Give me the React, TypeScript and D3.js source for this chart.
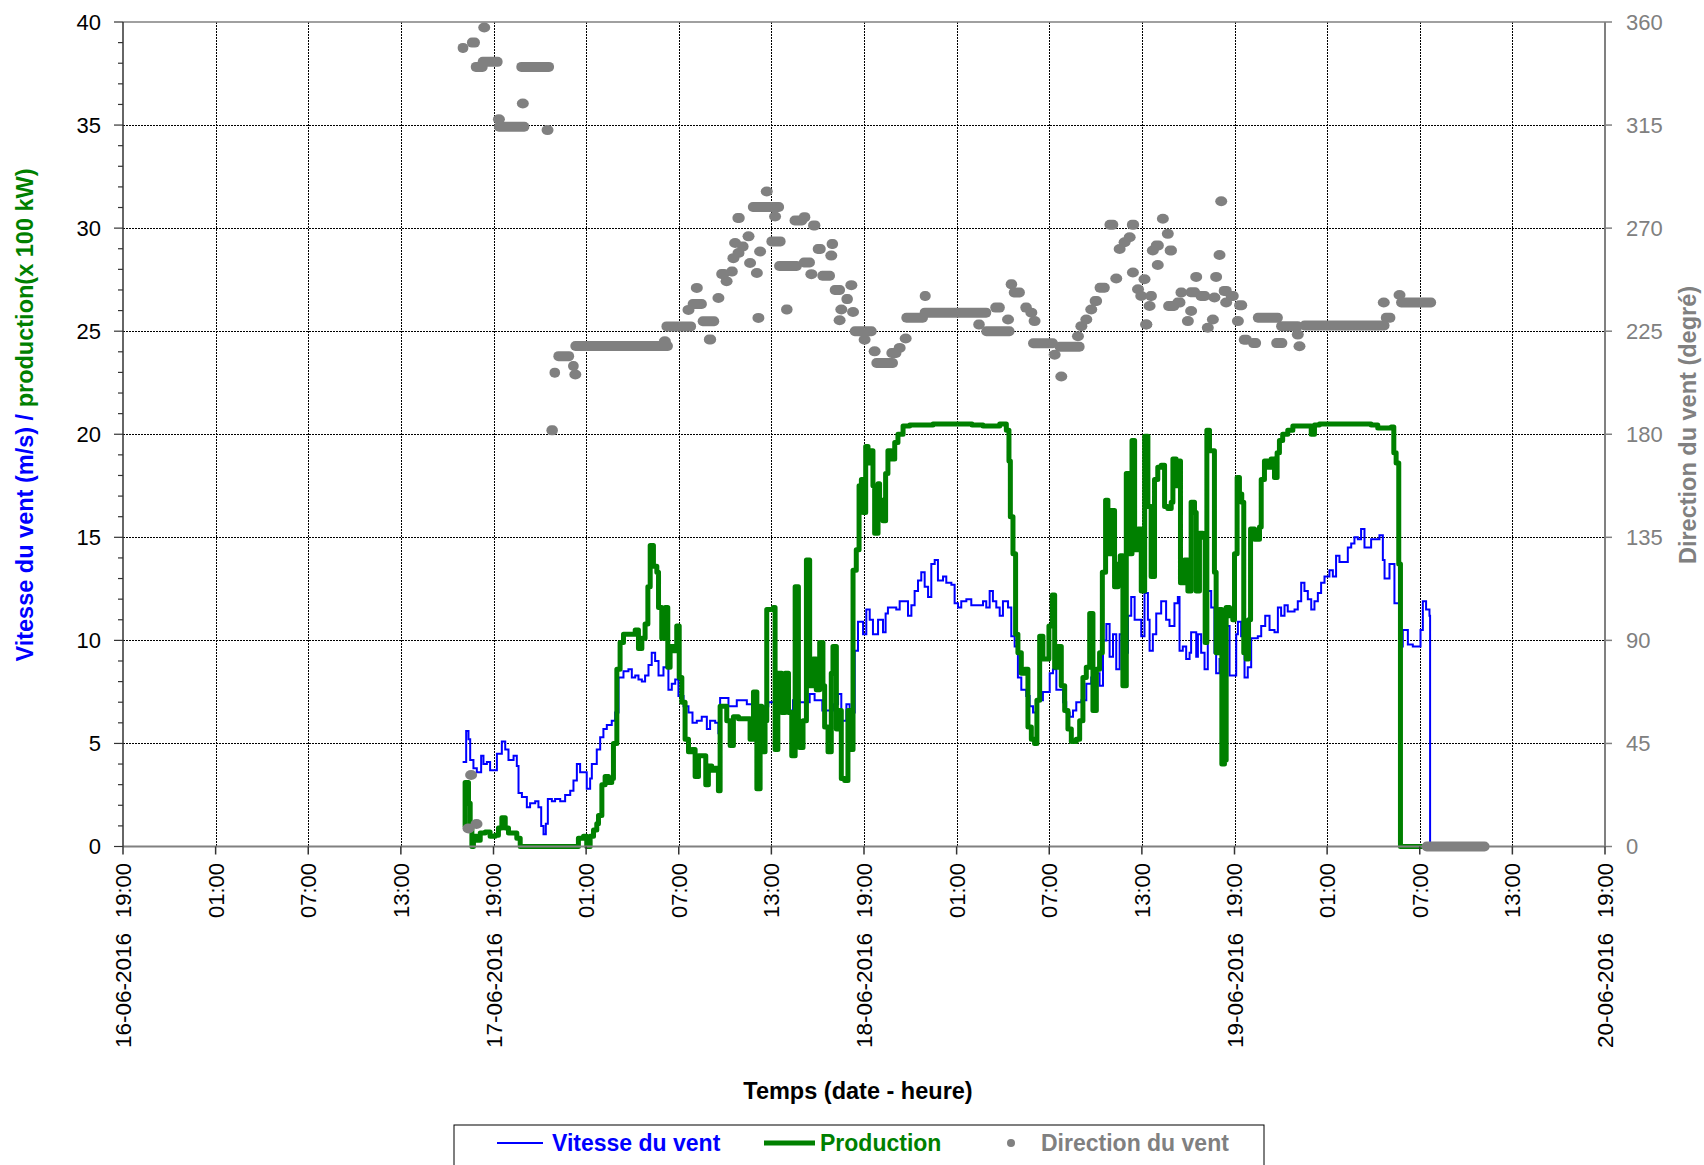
import React from "react";
import * as d3 from "d3";

// time values are hours counted from 16-06-2016 19:00
const startDate = new Date(2016, 5, 16, 19, 0);
const tickHours = d3.range(0, 97, 6);
const leftTicks = [0, 5, 10, 15, 20, 25, 30, 35, 40];
const rightTicks = [0, 45, 90, 135, 180, 225, 270, 315, 360];

// wind speed (m/s): [hour, value]
const windSpeed: [number, number][] = [
  [22.0, 4.1], [22.23, 5.6], [22.38, 5.2], [22.49, 4.2], [22.7, 3.8], [22.92, 3.6], [23.2, 4.4], [23.35, 4.0],
  [23.57, 4.1], [23.78, 3.7], [24.22, 4.5], [24.54, 5.1], [24.76, 4.7], [24.97, 4.2], [25.3, 4.4], [25.51, 3.9],
  [25.62, 2.6], [25.84, 2.4], [26.16, 1.9], [26.37, 2.1], [26.7, 2.2], [26.91, 1.9], [27.09, 1.0], [27.24, 0.6],
  [27.39, 1.1], [27.52, 2.3], [27.78, 2.2], [27.99, 2.3], [28.32, 2.2], [28.64, 2.5], [28.97, 2.7], [29.18, 3.2],
  [29.4, 4.0], [29.61, 3.6], [29.83, 3.6], [30.04, 2.8], [30.26, 3.3], [30.37, 4.0], [30.69, 4.7], [30.91, 5.3],
  [31.12, 5.7], [31.34, 5.9], [31.66, 6.1], [31.88, 6.5], [32.1, 8.2], [32.42, 8.5], [32.74, 8.6], [32.96, 8.2],
  [33.18, 8.3], [33.39, 8.1], [33.61, 8.0], [33.82, 8.3], [34.04, 8.8], [34.25, 9.4], [34.47, 9.0], [34.69, 8.3],
  [35.01, 8.7], [35.23, 9.0], [35.33, 7.6], [35.55, 7.9], [35.77, 8.1], [35.98, 7.3], [36.31, 6.8], [36.63, 6.5],
  [36.89, 6.0], [37.17, 6.1], [37.49, 6.3], [37.82, 5.7], [38.03, 6.1], [38.36, 6.0], [38.57, 5.5], [38.68, 7.2],
  [39.22, 6.8], [39.76, 7.1], [40.41, 6.9], [41.06, 6.1], [41.38, 6.8], [41.8, 7.0], [42.2, 6.5], [42.6, 7.2],
  [43.0, 6.6], [43.4, 7.1], [43.83, 7.0], [44.48, 7.4], [44.8, 7.1], [45.3, 6.6], [45.99, 6.9], [46.32, 7.4],
  [46.53, 6.1], [46.86, 6.9], [47.07, 6.5], [47.4, 9.5], [47.61, 10.9], [47.94, 10.3], [48.15, 11.5], [48.37, 11.0],
  [48.58, 10.3], [48.91, 11.0], [49.23, 10.4], [49.4, 11.3], [49.55, 11.6], [50.09, 11.5], [50.31, 11.9], [50.63, 11.9],
  [50.85, 11.2], [51.07, 11.7], [51.28, 12.4], [51.5, 12.9], [51.71, 13.3], [51.93, 12.6], [52.15, 12.1], [52.36, 13.7],
  [52.58, 13.9], [52.79, 12.9], [53.12, 13.1], [53.33, 12.8], [53.66, 12.7], [53.87, 11.8], [54.09, 11.6], [54.3, 11.9],
  [54.63, 12.0], [54.95, 11.7], [55.71, 11.9], [55.92, 11.6], [56.14, 12.4], [56.35, 11.9], [56.57, 11.6], [56.79, 11.2],
  [57.0, 11.9], [57.33, 11.6], [57.54, 10.2], [57.76, 9.7], [57.97, 8.2], [58.19, 7.6], [58.51, 7.3], [58.73, 6.8],
  [58.95, 6.5], [59.27, 7.1], [59.59, 7.5], [60.03, 8.4], [60.24, 8.6], [60.46, 7.6], [60.89, 7.0], [61.1, 6.5],
  [61.32, 6.3], [61.54, 6.6], [61.75, 7.0], [62.08, 7.1], [62.4, 7.9], [62.72, 8.2], [63.05, 8.4], [63.26, 7.8],
  [63.48, 10.0], [63.7, 10.8], [63.91, 9.2], [64.13, 10.3], [64.34, 8.6], [64.56, 10.3], [64.88, 9.4], [65.1, 11.2],
  [65.31, 12.1], [65.53, 11.0], [65.96, 10.2], [66.17, 12.3], [66.39, 11.0], [66.5, 9.5], [66.71, 10.3], [66.93, 11.3],
  [67.25, 11.9], [67.57, 11.0], [67.79, 10.7], [68.11, 11.8], [68.33, 12.1], [68.44, 9.5], [68.65, 9.7], [68.87, 9.1],
  [69.09, 9.4], [69.19, 10.4], [69.52, 9.2], [69.63, 10.3], [69.84, 9.4], [70.06, 8.6], [70.27, 12.4], [70.49, 11.6],
  [70.7, 9.4], [70.81, 8.4], [71.03, 9.1], [71.24, 8.4], [71.46, 10.7], [71.68, 8.3], [72.11, 10.3], [72.22, 10.9],
  [72.43, 10.2], [72.65, 8.2], [72.86, 8.7], [73.08, 10.1], [73.51, 10.2], [73.73, 10.7], [73.99, 11.2], [74.27, 10.5],
  [74.59, 10.4], [74.81, 11.6], [75.02, 11.2], [75.24, 11.7], [75.45, 11.4], [75.89, 11.5], [76.1, 11.9], [76.32, 12.8],
  [76.53, 12.4], [76.75, 12.0], [76.97, 11.5], [77.18, 11.9], [77.4, 12.3], [77.61, 12.8], [77.83, 13.1], [78.15, 13.4],
  [78.37, 13.1], [78.58, 14.1], [78.8, 13.8], [79.34, 14.5], [79.56, 14.7], [79.77, 15.0], [79.99, 14.9], [80.2, 15.4],
  [80.42, 14.5], [80.85, 14.9], [81.39, 15.1], [81.61, 13.9], [81.72, 13.0], [82.04, 13.7], [82.36, 11.8], [82.69, 9.7],
  [82.9, 10.5], [83.23, 9.8], [83.55, 9.7], [84.05, 10.5], [84.2, 11.9], [84.41, 11.5], [84.63, 11.2], [84.67, 0],
  [84.8, 0],
];

// production (x 100 kW): [hour, value]
const production: [number, number][] = [
  [22.0, 1.05], [22.16, 3.1], [22.38, 2.1], [22.49, 1.1], [22.6, 0], [22.7, 0.5], [22.92, 0.3], [23.14, 0.65],
  [23.46, 0.7], [23.78, 0.5], [24.11, 0.55], [24.32, 0.9], [24.54, 1.4], [24.76, 0.9], [24.97, 0.65], [25.51, 0.4],
  [25.73, 0], [29.18, 0], [29.5, 0.4], [29.83, 0.5], [30.04, 0], [30.26, 0.5], [30.48, 0.8], [30.69, 1.1],
  [30.8, 1.5], [31.02, 3.0], [31.23, 3.4], [31.45, 3.1], [31.66, 3.3], [31.77, 5.0], [31.99, 8.6], [32.2, 9.9],
  [32.42, 10.3], [32.74, 10.3], [33.18, 10.5], [33.39, 9.6], [33.61, 10.1], [33.82, 10.8], [34.0, 12.6], [34.15, 14.6],
  [34.36, 13.6], [34.58, 13.3], [34.69, 11.6], [34.9, 10.1], [35.12, 11.6], [35.29, 8.7], [35.44, 9.7], [35.66, 9.5],
  [35.87, 10.7], [36.03, 8.2], [36.2, 7.0], [36.41, 5.2], [36.63, 4.6], [36.85, 4.7], [37.06, 3.4], [37.28, 4.4],
  [37.75, 3.0], [37.92, 3.9], [38.14, 3.7], [38.36, 3.8], [38.57, 2.7], [38.68, 6.8], [39.11, 6.1], [39.33, 4.9],
  [39.54, 6.3], [39.87, 6.2], [40.62, 5.2], [40.84, 7.5], [41.06, 2.8], [41.27, 6.8], [41.38, 4.6], [41.59, 6.1],
  [41.7, 11.5], [42.13, 11.6], [42.24, 4.7], [42.42, 8.4], [42.67, 6.5], [42.89, 8.4], [43.11, 6.5], [43.32, 4.4],
  [43.54, 12.6], [43.75, 6.1], [43.83, 4.8], [44.05, 6.1], [44.27, 13.9], [44.48, 7.8], [44.7, 9.1], [44.91, 7.6],
  [45.13, 9.9], [45.34, 7.8], [45.45, 5.8], [45.67, 4.6], [45.88, 8.4], [45.99, 9.7], [46.21, 5.7], [46.42, 6.6],
  [46.53, 3.3], [46.75, 3.2], [46.96, 6.6], [47.18, 4.7], [47.29, 13.4], [47.5, 14.4], [47.68, 17.5], [47.83, 17.8],
  [47.94, 16.2], [48.11, 19.4], [48.26, 18.6], [48.41, 19.2], [48.58, 17.5], [48.69, 15.2], [48.91, 17.6], [49.01, 16.8],
  [49.23, 15.8], [49.4, 18.1], [49.55, 19.2], [49.77, 18.8], [49.99, 19.6], [50.2, 20.0], [50.53, 20.4], [50.96, 20.45],
  [52.47, 20.5], [53.98, 20.5], [55.0, 20.45], [55.71, 20.4], [56.79, 20.5], [57.22, 20.2], [57.39, 18.7], [57.48, 16.0],
  [57.65, 14.2], [57.82, 10.3], [57.97, 9.4], [58.19, 8.4], [58.41, 8.6], [58.62, 5.8], [58.84, 5.2], [59.05, 5.0],
  [59.2, 7.1], [59.38, 10.2], [59.59, 9.1], [59.81, 9.1], [59.98, 10.7], [60.2, 12.2], [60.35, 8.7], [60.56, 9.7],
  [60.78, 7.8], [61.0, 6.6], [61.21, 5.7], [61.43, 5.1], [61.75, 5.2], [61.97, 6.1], [62.18, 8.2], [62.4, 8.7],
  [62.62, 11.3], [62.83, 6.6], [63.05, 8.6], [63.26, 9.4], [63.44, 13.3], [63.65, 16.8], [63.8, 14.2], [64.02, 16.3],
  [64.23, 12.6], [64.45, 13.7], [64.6, 14.1], [64.77, 7.8], [64.99, 18.1], [65.21, 14.2], [65.36, 19.7], [65.53, 14.4],
  [65.75, 15.4], [65.96, 12.4], [66.18, 19.9], [66.39, 16.5], [66.6, 13.1], [66.82, 17.8], [67.03, 18.4], [67.25, 18.5],
  [67.47, 16.5], [67.68, 16.4], [67.9, 16.7], [68.01, 18.8], [68.22, 17.5], [68.44, 18.7], [68.5, 12.8], [68.76, 13.9],
  [68.98, 12.4], [69.19, 16.7], [69.41, 16.2], [69.52, 12.4], [69.73, 15.2], [69.95, 15.0], [70.1, 9.9], [70.21, 20.2],
  [70.38, 19.2], [70.6, 19.2], [70.7, 13.3], [70.81, 9.4], [71.03, 11.5], [71.18, 4.0], [71.35, 4.2], [71.46, 11.6],
  [71.68, 11.2], [71.89, 11.0], [72.0, 14.2], [72.17, 17.9], [72.32, 17.1], [72.47, 16.7], [72.6, 9.4], [72.76, 9.1],
  [72.91, 11.0], [73.04, 15.4], [73.3, 14.9], [73.62, 15.5], [73.73, 17.8], [73.94, 18.7], [74.16, 18.4], [74.37, 18.8],
  [74.59, 17.9], [74.76, 19.1], [74.91, 19.7], [75.12, 20.0], [75.45, 20.2], [75.78, 20.4], [76.5, 20.4], [76.97, 20.0],
  [77.18, 20.45], [77.5, 20.5], [79.12, 20.5], [80.85, 20.45], [81.28, 20.3], [82.15, 20.35], [82.32, 19.1], [82.47, 18.6],
  [82.64, 13.7], [82.75, 0], [84.3, 0],
];

// wind direction (deg): [fromHour, toHour, value], one run of equal readings each
const windDirection: [number, number, number][] = [
  [22.0, 22.05, 348.7], [22.6, 22.8, 351.0], [23.4, 23.4, 357.6], [22.85, 23.3, 340.4], [23.3, 24.27, 342.6],
  [22.38, 22.38, 7.9], [22.55, 22.55, 31.2], [22.9, 22.9, 9.8],
  [24.35, 24.35, 317.5], [24.35, 26.0, 314.3], [25.9, 25.9, 324.4], [25.8, 27.6, 340.4], [27.5, 27.5, 312.8],
  [27.75, 27.85, 181.7], [27.95, 27.99, 206.9], [28.2, 28.9, 214.1], [29.15, 29.2, 209.8], [29.3, 29.3, 206.1],
  [29.3, 35.3, 218.5], [35.1, 35.1, 220.6], [35.2, 36.8, 227.1], [36.63, 36.63, 234.3], [36.9, 37.5, 236.9],
  [37.17, 37.17, 243.9], [37.55, 38.3, 229.3], [37.95, 38.1, 221.4], [38.57, 38.57, 239.5], [38.75, 38.95, 250.0],
  [39.1, 39.1, 246.8], [39.4, 39.5, 251.1], [39.54, 39.54, 256.9], [39.87, 39.87, 259.1], [39.65, 39.65, 263.5],
  [40.1, 40.2, 262.0], [40.52, 40.52, 266.4], [40.62, 40.62, 254.8], [41.06, 41.06, 250.4], [41.27, 41.27, 259.8],
  [41.16, 41.16, 230.8], [39.8, 39.95, 274.4], [40.8, 42.5, 279.2], [41.7, 41.7, 286.0], [42.24, 42.24, 275.1],
  [42.0, 42.6, 264.2], [42.5, 43.65, 253.5], [42.95, 43.05, 234.5], [43.5, 44.0, 273.3],
  [44.1, 44.2, 274.8], [44.7, 44.85, 271.2], [44.1, 44.5, 255.0], [44.59, 44.59, 249.9], [45.0, 45.2, 260.9],
  [45.9, 46.0, 263.1], [45.88, 45.88, 258.0], [45.3, 45.8, 249.2], [46.1, 46.45, 243.0], [47.18, 47.18, 245.1],
  [46.86, 46.96, 239.0], [46.53, 46.53, 234.5], [47.29, 47.29, 233.4], [46.42, 46.42, 229.8], [47.4, 48.5, 225.0],
  [48.04, 48.04, 221.3], [48.69, 48.69, 216.2], [48.8, 49.88, 211.1], [49.77, 50.1, 215.5], [50.31, 50.31, 217.7],
  [50.7, 50.7, 221.8], [50.74, 51.82, 230.9], [51.93, 52.0, 240.4], [51.93, 55.92, 233.1], [55.4, 55.5, 227.9],
  [55.92, 57.43, 225.0], [56.5, 56.8, 235.3], [57.33, 57.33, 230.1], [57.5, 57.6, 245.5], [57.7, 58.1, 241.9],
  [58.45, 58.55, 235.3], [58.84, 58.84, 233.1], [59.05, 59.05, 229.4], [58.95, 60.24, 219.7], [60.35, 60.35, 214.7],
  [60.78, 60.78, 205.2], [60.67, 61.97, 218.2], [61.86, 61.86, 222.8], [62.08, 62.08, 227.2], [62.4, 62.4, 230.1],
  [62.72, 62.72, 234.5], [62.94, 63.1, 238.2], [63.26, 63.6, 244.0], [64.34, 64.34, 248.0], [64.56, 64.56, 260.9],
  [64.88, 64.88, 263.8], [65.21, 65.21, 266.0], [63.9, 64.15, 271.5], [65.35, 65.5, 271.5], [65.42, 65.42, 250.6],
  [65.75, 65.75, 243.3], [65.96, 65.96, 240.4], [66.29, 66.29, 227.9],
  [67.36, 67.36, 274.1], [67.68, 67.68, 267.5], [66.9, 67.1, 262.4], [66.71, 66.71, 260.2], [67.8, 67.95, 260.2],
  [67.03, 67.03, 253.9], [71.14, 71.14, 281.7], [71.03, 71.03, 258.3], [69.52, 69.52, 248.7], [70.81, 70.81, 248.7],
  [66.55, 66.65, 240.4], [66.17, 66.17, 247.7], [68.5, 68.6, 241.9], [69.15, 69.45, 242.0], [69.8, 70.1, 240.4],
  [70.7, 70.7, 239.7], [71.3, 71.5, 242.6], [71.75, 71.95, 240.4], [67.7, 68.1, 236.0], [68.3, 68.5, 237.5],
  [69.19, 69.19, 233.8], [71.46, 71.46, 237.5], [72.3, 72.5, 236.3], [66.5, 66.5, 236.0], [68.98, 68.98, 229.4],
  [70.27, 70.27, 226.5], [70.6, 70.6, 230.1], [66.28, 66.28, 227.9], [72.22, 72.22, 229.4], [72.6, 72.8, 221.3],
  [73.2, 73.4, 219.8], [73.51, 74.81, 230.9], [75.02, 76.1, 227.2], [74.7, 75.1, 219.8], [76.21, 76.21, 218.4],
  [76.1, 76.1, 223.5], [76.53, 81.72, 227.5], [81.67, 81.67, 237.5], [81.8, 82.1, 230.9], [82.69, 82.69, 240.8],
  [82.79, 84.74, 237.5], [84.45, 88.2, 0],
];

const BLUE = "#0000ff";
const GREEN = "#008000";
const GRAY = "#808080";
const FONT = "'Liberation Sans', Arial, sans-serif";

const W = 1704;
const H = 1165;
const plot = { left: 123, right: 1605, top: 22, bottom: 846.5 };

const toDate = (h: number) => new Date(startDate.getTime() + h * 3600 * 1000);
// snap 1px lines to the pixel grid so the dotted grid stays crisp
const crisp = (v: number) => Math.round(v) + 0.5;

export default function App() {
  const x = d3.scaleTime().domain([toDate(0), toDate(96)]).range([plot.left, plot.right]);
  const yL = d3.scaleLinear().domain([0, 40]).range([plot.bottom, plot.top]);
  const yR = d3.scaleLinear().domain([0, 360]).range([plot.bottom, plot.top]);
  const hourFmt = d3.timeFormat("%H:%M");
  const dateFmt = d3.timeFormat("%d-%m-%Y");

  const line = d3
    .line<[number, number]>()
    .x((d) => x(toDate(d[0])))
    .y((d) => yL(d[1]))
    .curve(d3.curveStepAfter);

  const minorTicks = d3.range(0, 41, 1);

  return (
    <svg
      width={W}
      height={H}
      style={{ position: "absolute", left: 0, top: 0, background: "#fff" }}
      fontFamily={FONT}
    >
      {/* grid */}
      {leftTicks.slice(1, -1).map((v) => (
        <line key={"gh" + v} x1={plot.left} x2={plot.right} y1={crisp(yL(v))} y2={crisp(yL(v))}
          stroke="#000" strokeWidth={1} strokeDasharray="2,1" />
      ))}
      {tickHours.slice(1, -1).map((h) => (
        <line key={"gv" + h} x1={crisp(x(toDate(h)))} x2={crisp(x(toDate(h)))} y1={plot.top} y2={plot.bottom}
          stroke="#000" strokeWidth={1} strokeDasharray="2,1" />
      ))}

      {/* series */}
      <path d={line(windSpeed) || ""} fill="none" stroke={BLUE} strokeWidth={2} />
      <path d={line(production) || ""} fill="none" stroke={GREEN} strokeWidth={5} strokeLinejoin="round" />
      {windDirection.map((d, i) =>
        d[1] > d[0] ? (
          <line key={"wd" + i} x1={x(toDate(d[0]))} x2={x(toDate(d[1]))} y1={yR(d[2])} y2={yR(d[2])}
            stroke={GRAY} strokeWidth={10} strokeLinecap="round" />
        ) : (
          <ellipse key={"wd" + i} cx={x(toDate(d[0]))} cy={yR(d[2])} rx={6} ry={5} fill={GRAY} />
        )
      )}

      {/* frame */}
      <line x1={plot.left} x2={plot.right} y1={plot.top} y2={plot.top} stroke={GRAY} strokeWidth={1.5} />
      <line x1={plot.right} x2={plot.right} y1={plot.top} y2={plot.bottom} stroke={GRAY} strokeWidth={2} />
      <line x1={plot.left} x2={plot.right} y1={plot.bottom} y2={plot.bottom} stroke={GRAY} strokeWidth={2} />
      <line x1={plot.left} x2={plot.left} y1={plot.top} y2={plot.bottom} stroke="#333" strokeWidth={1.5} />

      {/* left axis */}
      {minorTicks.map((v) => (
        <line key={"lt" + v} x1={plot.left - (v % 5 === 0 ? 9 : 5)} x2={plot.left} y1={yL(v)} y2={yL(v)}
          stroke="#333" strokeWidth={1.2} />
      ))}
      {leftTicks.map((v) => (
        <text key={"ll" + v} x={101} y={yL(v)} dy="0.36em" textAnchor="end" fontSize={22} fill="#000">
          {v}
        </text>
      ))}

      {/* right axis */}
      {rightTicks.map((v) => (
        <g key={"rt" + v}>
          <line x1={plot.right} x2={plot.right + 7} y1={yR(v)} y2={yR(v)} stroke={GRAY} strokeWidth={1.5} />
          <text x={1626} y={yR(v)} dy="0.36em" fontSize={22} fill={GRAY}>
            {v}
          </text>
        </g>
      ))}

      {/* bottom axis */}
      {tickHours.map((h) => {
        const px = x(toDate(h));
        const t = toDate(h);
        return (
          <g key={"bt" + h}>
            <line x1={px} x2={px} y1={plot.bottom} y2={plot.bottom + 8} stroke="#333" strokeWidth={1.5} />
            <text transform={`translate(${px},${863}) rotate(-90)`} dy="0.36em" textAnchor="end"
              fontSize={22} fill="#000">
              {hourFmt(t)}
            </text>
            {h % 24 === 0 && (
              <text transform={`translate(${px},${933}) rotate(-90)`} dy="0.36em" textAnchor="end"
                fontSize={22.5} fill="#000">
                {dateFmt(t)}
              </text>
            )}
          </g>
        );
      })}

      {/* axis titles */}
      <text transform="translate(25,415) rotate(-90)" textAnchor="middle" dy="0.36em"
        fontSize={23.5} fontWeight="bold">
        <tspan fill={BLUE}>Vitesse du vent (m/s) /</tspan>
        <tspan fill={GREEN}> production(x 100 kW)</tspan>
      </text>
      <text transform="translate(1688,425) rotate(-90)" textAnchor="middle" dy="0.36em"
        fontSize={23.5} fontWeight="bold" fill={GRAY}>
        Direction du vent (degré)
      </text>
      <text x={858} y={1099} textAnchor="middle" fontSize={23.5} fontWeight="bold" fill="#000">
        Temps (date - heure)
      </text>

      {/* legend */}
      <rect x={454} y={1125} width={810} height={70} fill="#fff" stroke="#000" strokeWidth={1} />
      <line x1={497} x2={543} y1={1143} y2={1143} stroke={BLUE} strokeWidth={2} />
      <text x={552} y={1143} dy="0.36em" fontSize={23} fontWeight="bold" fill={BLUE}>Vitesse du vent</text>
      <line x1={764} x2={815} y1={1143} y2={1143} stroke={GREEN} strokeWidth={5} />
      <text x={820} y={1143} dy="0.36em" fontSize={23} fontWeight="bold" fill={GREEN}>Production</text>
      <circle cx={1011} cy={1143} r={4} fill={GRAY} />
      <text x={1041} y={1143} dy="0.36em" fontSize={23} fontWeight="bold" fill={GRAY}>Direction du vent</text>
    </svg>
  );
}
